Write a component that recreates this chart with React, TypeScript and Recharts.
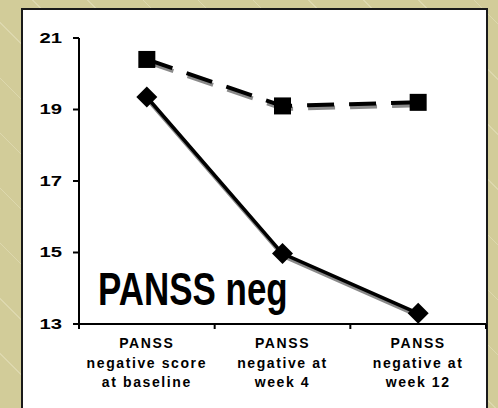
import React from 'react';
import { LineChart, Line, XAxis, YAxis } from 'recharts';

const categories = [
  ['PANSS', 'negative score', 'at baseline'],
  ['PANSS', 'negative at', 'week 4'],
  ['PANSS', 'negative at', 'week 12'],
];
const placeboValues = [20.4, 19.1, 19.2];
const treatedValues = [19.35, 14.97, 13.3];
const yTicks = [13, 15, 17, 19, 21];

// x sits in the middle of each category band, band edges get the tick marks
const data = categories.map((lines, i) => ({
  x: i + 0.5,
  lines,
  placebo: placeboValues[i],
  treated: treatedValues[i],
}));
const xTicks = [0, 0.5, 1, 1.5, 2, 2.5, 3];

const FONT = '"Liberation Sans", Arial, sans-serif';

function XTick(props: any) {
  const { x, y, payload } = props;
  const v = payload.value;
  if (Number.isInteger(v)) {
    return <line x1={x} y1={y} x2={x} y2={y + 5} stroke="#000" strokeWidth={2} />;
  }
  const lines = categories[Math.floor(v)];
  return (
    <text x={x} y={y} textAnchor="middle" fontFamily={FONT} fontWeight="bold" fontSize={14} letterSpacing={1.6} fill="#000">
      {lines.map((t, i) => (
        <tspan key={i} x={x} dy={i === 0 ? 24 : 19.5}>{t}</tspan>
      ))}
    </text>
  );
}

// the source labels are stretched sideways
function YTick(props: any) {
  const { x, y, payload } = props;
  return (
    <text x={x} y={y} dy={5} textAnchor="end" fontFamily={FONT} fontWeight="bold" fontSize={15} fill="#000"
      transform={`translate(${x} 0) scale(1.35 1) translate(${-x} 0)`}>
      {payload.value}
    </text>
  );
}

function SquareDot(props: any) {
  const { cx, cy } = props;
  return <rect x={cx - 8.5} y={cy - 8.5} width={17} height={17} fill="#000" />;
}

function DiamondDot(props: any) {
  const { cx, cy } = props;
  const r = 10.5;
  return <polygon points={`${cx},${cy - r} ${cx + r},${cy} ${cx},${cy + r} ${cx - r},${cy}`} fill="#000" />;
}

export default function App() {
  return (
    <div style={{
      position: 'absolute', left: 0, top: 0, width: 498, height: 408, overflow: 'hidden',
      backgroundColor: '#d2cc99',
      backgroundImage: 'repeating-linear-gradient(45deg, transparent 0px, transparent 38px, #ddd8ae 38px, #ddd8ae 39px)',
    }}>
      <style>{`.shadowed { filter: drop-shadow(1px 3px 0 #8a8a8a); }`}</style>
      <div style={{
        position: 'absolute', left: 21, top: 8, width: 463, height: 430,
        background: '#fff', border: '2px solid #1a1a1a',
      }} />
      <div style={{ position: 'absolute', left: 0, top: 0 }}>
        <LineChart width={498} height={408} data={data} margin={{ top: 38, right: 12, left: 30, bottom: 14 }}>
          <XAxis
            dataKey="x"
            type="number"
            domain={[0, 3]}
            ticks={xTicks}
            interval={0}
            tick={<XTick />}
            tickLine={false}
            tickSize={0}
            tickMargin={0}
            axisLine={{ stroke: '#000', strokeWidth: 2 }}
            height={70}
          />
          <YAxis
            domain={[13, 21]}
            ticks={yTicks}
            interval={0}
            width={49}
            tickSize={6}
            tickMargin={11}
            axisLine={{ stroke: '#000', strokeWidth: 2 }}
            tickLine={{ stroke: '#000', strokeWidth: 2 }}
            tick={<YTick />}
          />
          <Line
            className="shadowed"
            dataKey="placebo"
            stroke="#000"
            strokeWidth={4}
            strokeDasharray="27 15"
            dot={<SquareDot />}
            activeDot={false}
            isAnimationActive={false}
          />
          <Line
            className="shadowed"
            dataKey="treated"
            stroke="#000"
            strokeWidth={3.5}
            dot={<DiamondDot />}
            activeDot={false}
            isAnimationActive={false}
          />
        </LineChart>
      </div>
      <svg style={{ position: 'absolute', left: 0, top: 0 }} width={498} height={408}>
        <text x={98} y={305} fontFamily={FONT} fontWeight="bold" fontSize={46} fill="#000"
          transform="translate(98 0) scale(0.76 1) translate(-98 0)">
          PANSS neg
        </text>
      </svg>
    </div>
  );
}
